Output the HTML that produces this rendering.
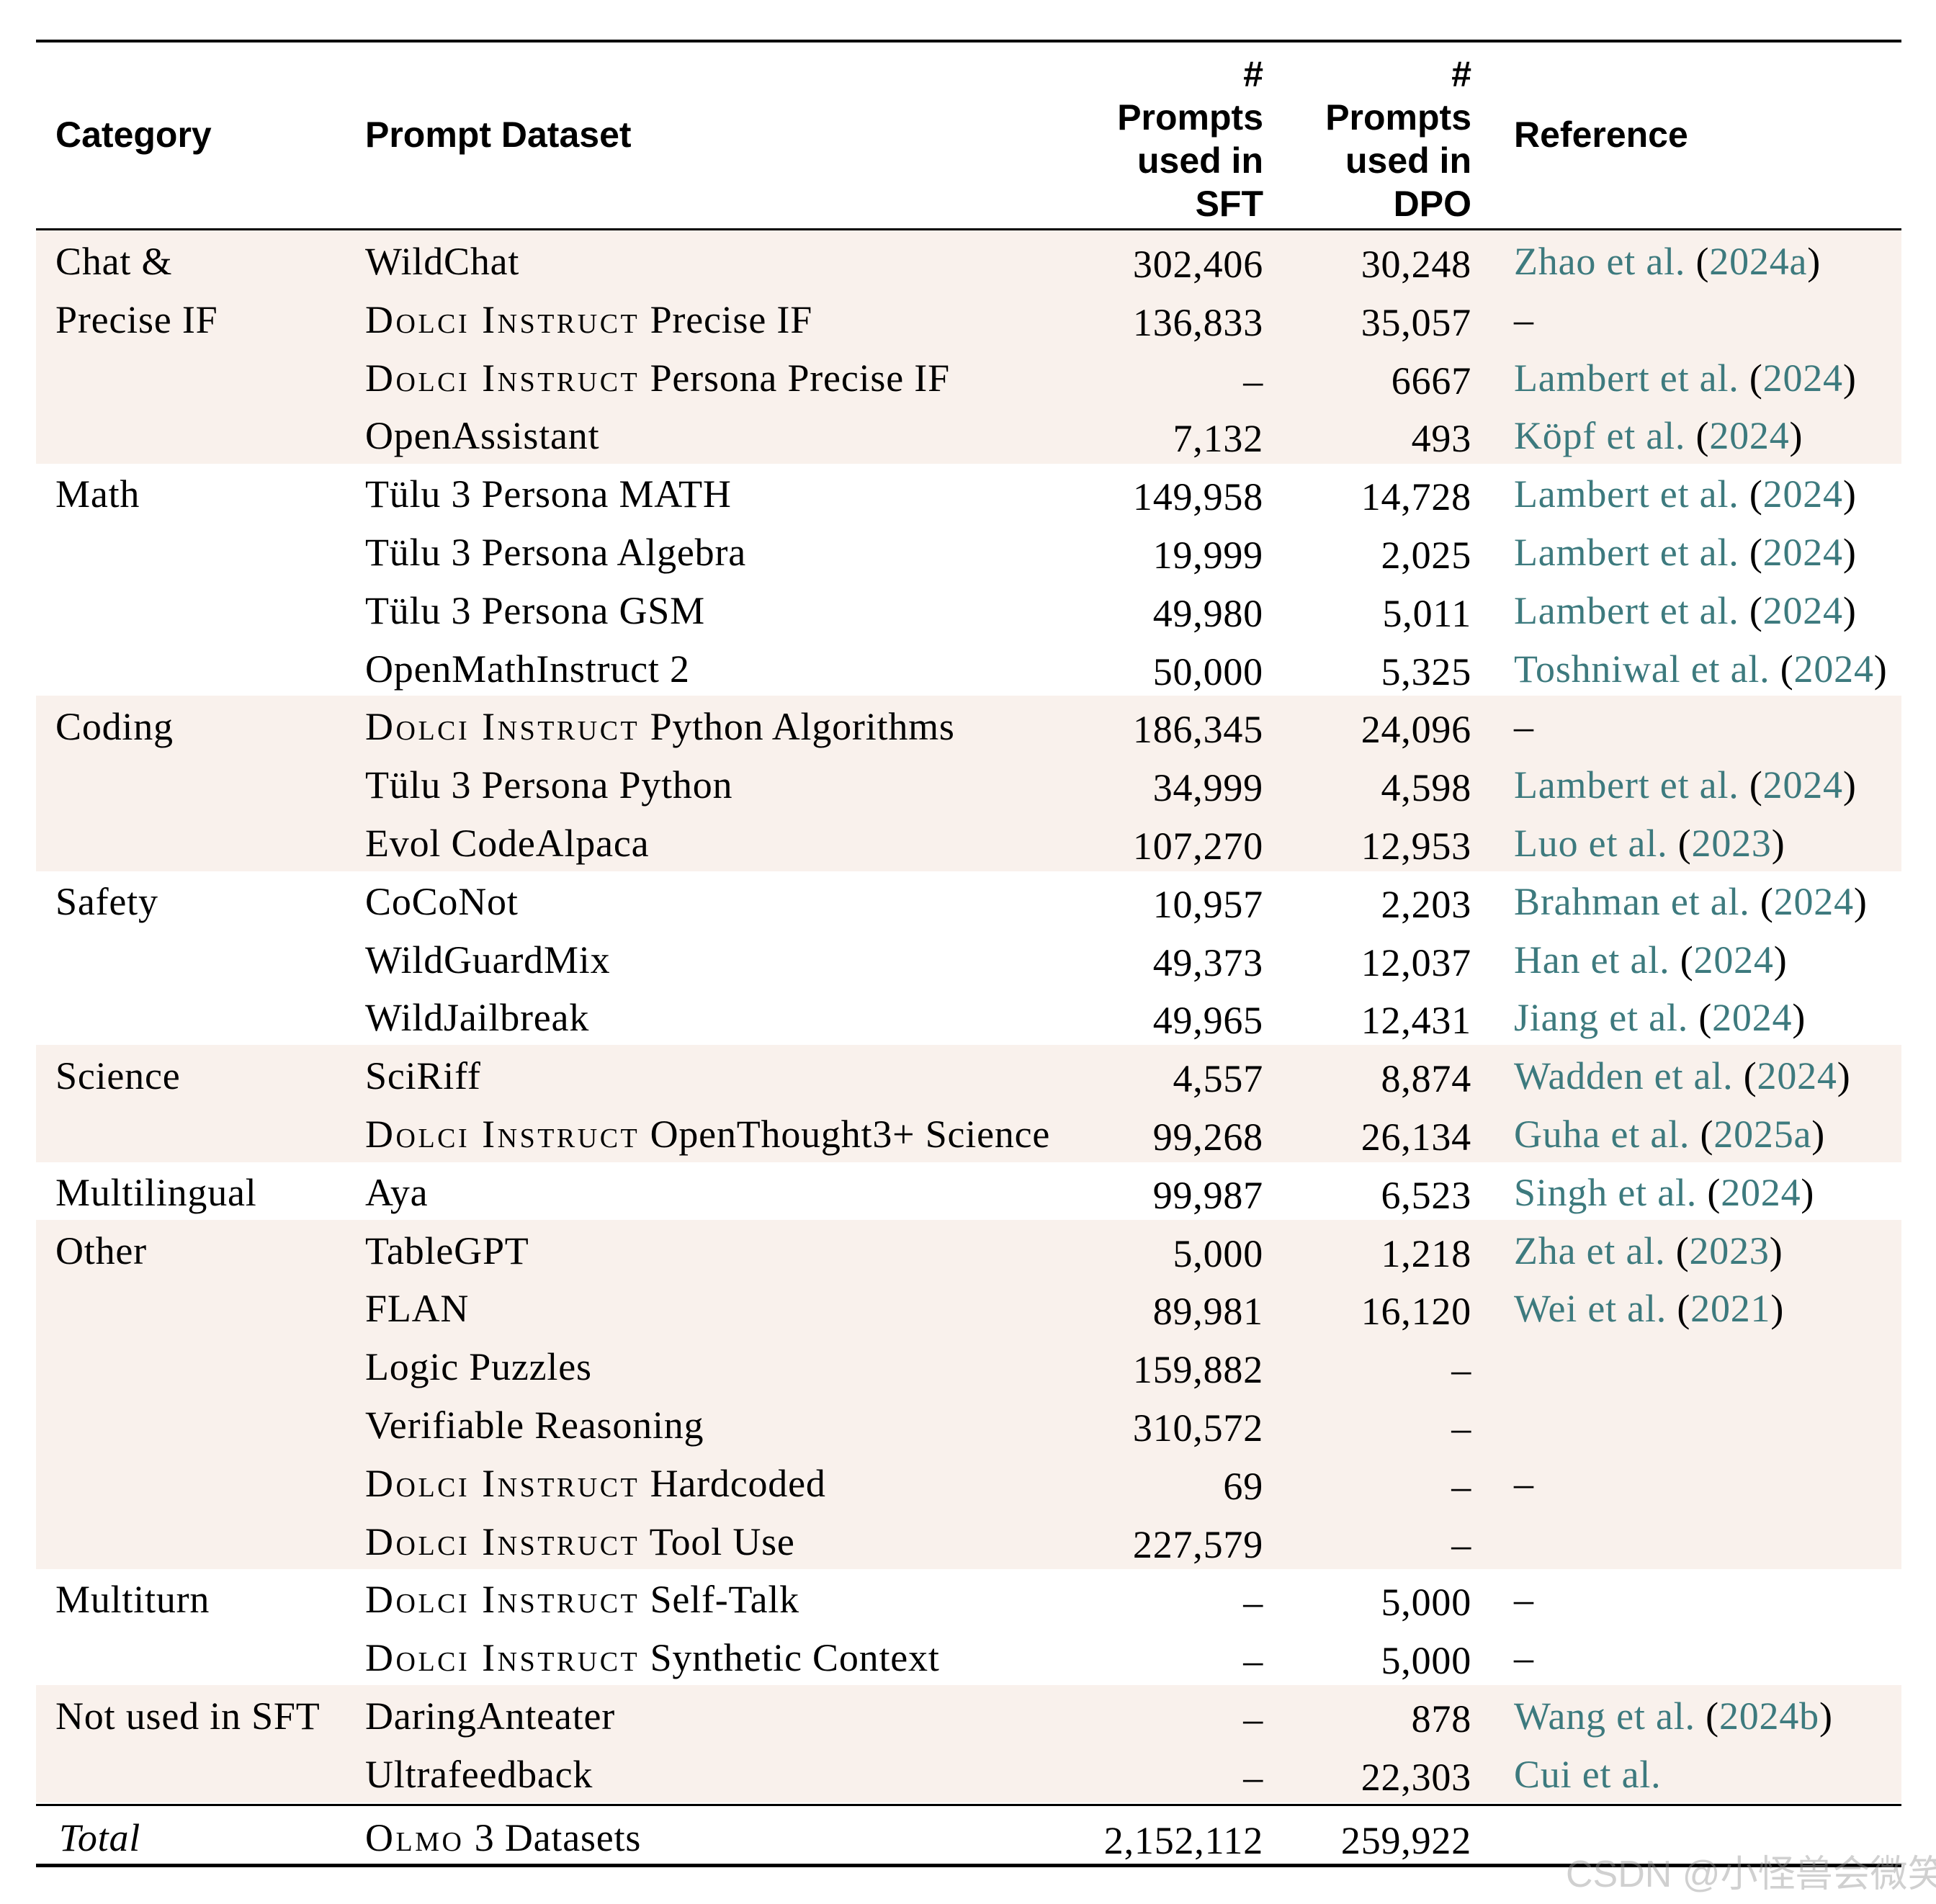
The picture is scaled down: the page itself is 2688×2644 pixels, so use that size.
<!DOCTYPE html>
<html><head><meta charset="utf-8">
<style>
html,body{margin:0;padding:0;background:#fff;}
#page{position:relative;width:2688px;height:2644px;overflow:hidden;background:#fff;font-family:"Liberation Serif",serif;color:#000;}
.band{position:absolute;left:50px;width:2590px;background:#f9f1ec;}
.rule{position:absolute;left:50px;width:2590px;background:#000;}
.cell{position:absolute;white-space:nowrap;font-size:54px;height:81px;line-height:81px;letter-spacing:0.8px;}
.r{text-align:right;}
.sc{font-variant:small-caps;letter-spacing:3.5px;}
.ref{color:#3d7a7e;}
.ref b{color:#000;font-weight:normal;}
.hd{position:absolute;font-family:"Liberation Sans",sans-serif;font-weight:bold;font-size:50px;line-height:60px;white-space:nowrap;}
</style></head>
<body>
<div id="page">
  <div class="rule" style="top:55px;height:4px"></div>
  <div class="hd" style="left:77px;top:157px">Category</div>
  <div class="hd" style="left:507px;top:157px">Prompt Dataset</div>
  <div class="hd" style="right:934px;top:73px;text-align:right">#<br>Prompts<br>used in<br>SFT</div>
  <div class="hd" style="right:645px;top:73px;text-align:right">#<br>Prompts<br>used in<br>DPO</div>
  <div class="hd" style="left:2102px;top:157px">Reference</div>
  <div class="rule" style="top:317px;height:3px"></div>
  <div id="body"></div>
  <div class="rule" style="top:2505px;height:3px"></div>
  <div class="cell" style="left:82px;top:2512px;font-style:italic">Total</div>
  <div class="cell" style="left:507px;top:2512px"><span class="sc">Olmo</span> 3 Datasets</div>
  <div class="cell r" style="right:934px;top:2516px">2,152,112</div>
  <div class="cell r" style="right:645px;top:2516px">259,922</div>
  <div class="rule" style="top:2588px;height:5px"></div>
  <div style="position:absolute;left:2174px;top:2560px;font-family:'Liberation Sans','Noto Sans CJK SC',sans-serif;font-size:52px;color:rgba(150,150,150,0.45);white-space:nowrap">CSDN @小怪兽会微笑</div>
</div>
<script>
const datasets=["WildChat","<span class='sc'>Dolci Instruct</span> Precise IF","<span class='sc'>Dolci Instruct</span> Persona Precise IF","OpenAssistant","Tülu 3 Persona MATH","Tülu 3 Persona Algebra","Tülu 3 Persona GSM","OpenMathInstruct 2","<span class='sc'>Dolci Instruct</span> Python Algorithms","Tülu 3 Persona Python","Evol CodeAlpaca","CoCoNot","WildGuardMix","WildJailbreak","SciRiff","<span class='sc'>Dolci Instruct</span> OpenThought3+ Science","Aya","TableGPT","FLAN","Logic Puzzles","Verifiable Reasoning","<span class='sc'>Dolci Instruct</span> Hardcoded","<span class='sc'>Dolci Instruct</span> Tool Use","<span class='sc'>Dolci Instruct</span> Self-Talk","<span class='sc'>Dolci Instruct</span> Synthetic Context","DaringAnteater","Ultrafeedback"];
const sftValues=["302,406","136,833","–","7,132","149,958","19,999","49,980","50,000","186,345","34,999","107,270","10,957","49,373","49,965","4,557","99,268","99,987","5,000","89,981","159,882","310,572","69","227,579","–","–","–","–"];
const dpoValues=["30,248","35,057","6667","493","14,728","2,025","5,011","5,325","24,096","4,598","12,953","2,203","12,037","12,431","8,874","26,134","6,523","1,218","16,120","–","–","–","–","5,000","5,000","878","22,303"];
const references=["Zhao et al. (2024a)","–","Lambert et al. (2024)","Köpf et al. (2024)","Lambert et al. (2024)","Lambert et al. (2024)","Lambert et al. (2024)","Toshniwal et al. (2024)","–","Lambert et al. (2024)","Luo et al. (2023)","Brahman et al. (2024)","Han et al. (2024)","Jiang et al. (2024)","Wadden et al. (2024)","Guha et al. (2025a)","Singh et al. (2024)","Zha et al. (2023)","Wei et al. (2021)","","","–","","–","–","Wang et al. (2024b)","Cui et al."];
const categories=[["Chat &",0],["Precise IF",1],["Math",4],["Coding",8],["Safety",11],["Science",14],["Multilingual",16],["Other",17],["Multiturn",23],["Not used in SFT",25]];
const groupSpans=[[0,4,true],[4,4,false],[8,3,true],[11,3,false],[14,2,true],[16,1,false],[17,6,true],[23,2,false],[25,2,true]];
const top0=320,pitch=80.8;
const body=document.getElementById('body');
function y(i){return top0+i*pitch;}
groupSpans.forEach(g=>{if(!g[2])return;
  const b=document.createElement('div');b.className='band';
  
  
  b.style.top=y(g[0])+'px';b.style.height=(g[1]*pitch+1)+'px';body.appendChild(b);});
function cell(html,cls,style,name){const d=document.createElement('div');d.className='cell '+cls;d.innerHTML=html;
  
  
  Object.assign(d.style,style);body.appendChild(d);}
categories.forEach(c=>cell(c[0],'',{left:'77px',top:(y(c[1])+3)+'px'},'category-label'));
datasets.forEach((t,i)=>{
  cell(t,'',{left:'507px',top:(y(i)+3)+'px'},'dataset-name');
  cell(sftValues[i],'r',{right:'934px',top:(y(i)+7)+'px'},'sft-count');
  cell(dpoValues[i],'r',{right:'645px',top:(y(i)+7)+'px'},'dpo-count');
  let r=references[i];
  if(r&&r!=='–'){r=r.replace('(','<b>(</b>').replace(')','<b>)</b>');}
  cell(r,r==='–'?'':'ref',{left:'2102px',top:(y(i)+3)+'px'},'reference-citation');
});
</script>
</body></html>
